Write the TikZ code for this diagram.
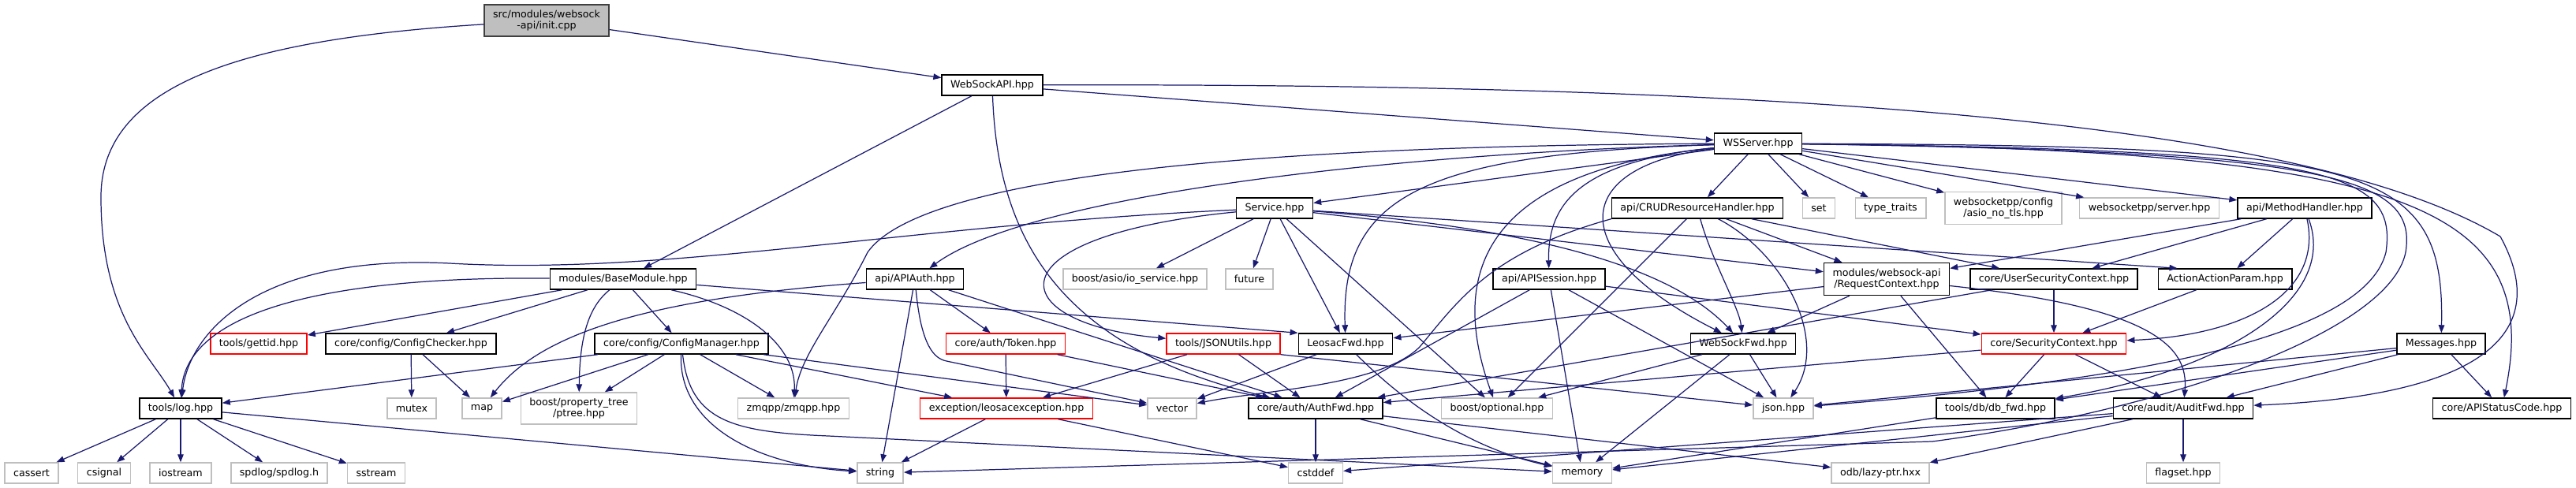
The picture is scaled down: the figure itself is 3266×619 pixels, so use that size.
\documentclass[tikz,border=0pt]{standalone}
\usepackage{fontspec}
\setmainfont{DejaVu Sans}
\usetikzlibrary{arrows.meta}
\definecolor{edgeblue}{HTML}{191970}
\definecolor{rootgray}{HTML}{BFBFBF}
\definecolor{rootborder}{HTML}{404040}
\definecolor{sysgray}{HTML}{BFBFBF}

\begin{document}
\begin{tikzpicture}[
  x=0.01cm,
  y=-0.01cm,
  file/.style={
    rectangle,
    draw=black,
    fill=white,
    line width=0.4pt,
    minimum height=2.6mm,
    inner xsep=1.1mm,
    inner ysep=0pt,
    align=center,
    font=\fontsize{3.6pt}{4pt}\selectfont
  },
  sysfile/.style={
    file,
    draw=sysgray
  },
  truncfile/.style={
    file,
    draw=red
  },
  rootfile/.style={
    file,
    fill=rootgray,
    draw=rootborder,
    minimum height=4mm
  },
  edge/.style={
    -{Triangle[length=1mm,width=0.75mm]},
    draw=edgeblue,
    line width=0.35pt
  }
]

\path[use as bounding box] (0,0) rectangle (3266,619);

\node[rootfile]  (init)       at (693,26)   {src/modules/websock\\-api/init.cpp};
\node[file]      (wsapi)      at (1258,108) {WebSockAPI.hpp};
\node[file]      (wsserver)   at (2229,182) {WSServer.hpp};
\node[file]      (service)    at (1616,264) {Service.hpp};
\node[file]      (crud)       at (2152,264) {api/CRUDResourceHandler.hpp};
\node[sysfile]   (set)        at (2306,264) {set};
\node[sysfile]   (typetraits) at (2397,264) {type\_traits};
\node[sysfile, minimum height=4.1mm] (wsconfig) at (2540,264) {websocketpp/config\\/asio\_no\_tls.hpp};
\node[sysfile]   (wsppserver) at (2725,264) {websocketpp/server.hpp};
\node[file]      (methodh)    at (2922,264) {api/MethodHandler.hpp};
\node[file]      (basemod)    at (790,354)  {modules/BaseModule.hpp};
\node[file]      (apiauth)    at (1160,354) {api/APIAuth.hpp};
\node[sysfile]   (asio)       at (1439,354) {boost/asio/io\_service.hpp};
\node[sysfile]   (future)     at (1584,354) {future};
\node[file]      (apisession) at (1964,354) {api/APISession.hpp};
\node[file, minimum height=4.1mm] (reqctx) at (2392,354) {modules/websock-api\\/RequestContext.hpp};
\node[file]      (usersec)    at (2604,354) {core/UserSecurityContext.hpp};
\node[file]      (actparam)   at (2821,354) {ActionActionParam.hpp};
\node[truncfile] (gettid)     at (328,436)  {tools/gettid.hpp};
\node[file]      (cfgcheck)   at (521,436)  {core/config/ConfigChecker.hpp};
\node[file]      (cfgmgr)     at (864,436)  {core/config/ConfigManager.hpp};
\node[truncfile] (token)      at (1275,436) {core/auth/Token.hpp};
\node[truncfile] (jsonutils)  at (1551,436) {tools/JSONUtils.hpp};
\node[file]      (leosacfwd)  at (1706,436) {LeosacFwd.hpp};
\node[file]      (wsfwd)      at (2210,436) {WebSockFwd.hpp};
\node[truncfile] (secctx)     at (2604,436) {core/SecurityContext.hpp};
\node[file]      (messages)   at (3095,436) {Messages.hpp};
\node[file]      (log)        at (229,518)  {tools/log.hpp};
\node[sysfile]   (mutex)      at (522,518)  {mutex};
\node[sysfile]   (map)        at (611,518)  {map};
\node[sysfile, minimum height=4mm] (ptree) at (734,518) {boost/property\_tree\\/ptree.hpp};
\node[sysfile]   (zmqpp)      at (1006,518) {zmqpp/zmqpp.hpp};
\node[truncfile] (leoexc)     at (1276,518) {exception/leosacexception.hpp};
\node[sysfile]   (vector)     at (1486,518) {vector};
\node[file]      (authfwd)    at (1668,518) {core/auth/AuthFwd.hpp};
\node[sysfile]   (optional)   at (1898,518) {boost/optional.hpp};
\node[sysfile]   (json)       at (2261,518) {json.hpp};
\node[file]      (dbfwd)      at (2530,518) {tools/db/db\_fwd.hpp};
\node[file]      (auditfwd)   at (2768,518) {core/audit/AuditFwd.hpp};
\node[file]      (statuscode) at (3172,518) {core/APIStatusCode.hpp};
\node[sysfile]   (cassert)    at (40,600)   {cassert};
\node[sysfile]   (csignal)    at (132,600)  {csignal};
\node[sysfile]   (iostream)   at (229,600)  {iostream};
\node[sysfile]   (spdlog)     at (354,600)  {spdlog/spdlog.h};
\node[sysfile]   (sstream)    at (477,600)  {sstream};
\node[sysfile]   (string)     at (1116,600) {string};
\node[sysfile]   (cstddef)    at (1668,600) {cstddef};
\node[sysfile]   (memory)     at (2006,600) {memory};
\node[sysfile]   (lazyptr)    at (2384,600) {odb/lazy-ptr.hxx};
\node[sysfile]   (flagset)    at (2768,600) {flagset.hpp};

\draw[edge] (init) -- (wsapi);
\draw[edge] (init) .. controls (300,50) and (128,110) .. (128,250) .. controls (128,400) and (190,450) .. (log);

\draw[edge] (wsapi) -- (wsserver);
\draw[edge] (wsapi) -- (basemod);
\draw[edge] (wsapi) .. controls (1265,300) and (1340,440) .. (authfwd);
\draw[edge] (wsapi) .. controls (2400,105) and (2950,170) .. (3170,300) .. controls (3225,400) and (3190,500) .. (auditfwd);

\draw[edge] (wsserver) -- (service);
\draw[edge] (wsserver) -- (crud);
\draw[edge] (wsserver) -- (set);
\draw[edge] (wsserver) -- (typetraits);
\draw[edge] (wsserver) -- (wsconfig);
\draw[edge] (wsserver) -- (wsppserver);
\draw[edge] (wsserver) -- (methodh);
\draw[edge] (wsserver) .. controls (1750,195) and (1300,250) .. (apiauth);
\draw[edge] (wsserver) .. controls (1500,185) and (1160,235) .. (1100,320) .. controls (1060,400) and (1015,450) .. (zmqpp);
\draw[edge] (wsserver) .. controls (1800,195) and (1700,250) .. (leosacfwd);
\draw[edge] (wsserver) .. controls (1900,215) and (1830,330) .. (optional);
\draw[edge] (wsserver) .. controls (2000,205) and (1962,260) .. (apisession);
\draw[edge] (wsserver) .. controls (1990,210) and (1980,320) .. (wsfwd);
\draw[edge] (wsserver) .. controls (3000,185) and (3100,205) .. (messages);
\draw[edge] (wsserver) .. controls (3050,190) and (3225,260) .. (statuscode);
\draw[edge] (wsserver) .. controls (2950,190) and (3040,215) .. (3025,320) .. controls (3000,420) and (2750,480) .. (json);
\draw[edge] (wsserver) .. controls (2960,192) and (3065,225) .. (3050,320) .. controls (3030,420) and (2750,520) .. (2450,560) -- (string);

\draw[edge] (service) .. controls (1150,285) and (850,350) .. (570,334) .. controls (330,322) and (240,420) .. (log);
\draw[edge] (service) .. controls (1250,300) and (1270,410) .. (jsonutils);
\draw[edge] (service) -- (asio);
\draw[edge] (service) -- (future);
\draw[edge] (service) -- (leosacfwd);
\draw[edge] (service) -- (optional);
\draw[edge] (service) -- (reqctx);
\draw[edge] (service) -- ([xshift=2.5mm]actparam.north west);
\draw[edge] (service) .. controls (1950,290) and (2120,340) .. (wsfwd);

\draw[edge] (crud) -- (reqctx);
\draw[edge] (crud) -- (usersec);
\draw[edge] (crud) -- (optional);
\draw[edge] (crud.south west) .. controls (1890,320) and (1850,380) .. (1800,440) .. controls (1750,490) and (1600,495) .. (vector);
\draw[edge] (crud) .. controls (2170,330) and (2205,390) .. (wsfwd);
\draw[edge] (crud) .. controls (2260,320) and (2320,430) .. (json);

\draw[edge] (methodh) -- (reqctx);
\draw[edge] (methodh) -- (usersec);
\draw[edge] (methodh) -- (actparam);
\draw[edge] (methodh) .. controls (2945,370) and (2850,425) .. (secctx);
\draw[edge] (methodh) .. controls (2965,380) and (2820,470) .. (dbfwd);

\draw[edge] (basemod) .. controls (400,350) and (235,400) .. (log);
\draw[edge] (basemod) -- (gettid);
\draw[edge] (basemod) -- (cfgcheck);
\draw[edge] (basemod) -- (cfgmgr);
\draw[edge] (basemod) .. controls (745,390) and (735,430) .. (ptree);
\draw[edge] (basemod) .. controls (950,390) and (1010,440) .. (zmqpp);
\draw[edge] (basemod) -- (leosacfwd.north west);

\draw[edge] (apiauth) .. controls (800,380) and (680,430) .. (map);
\draw[edge] (apiauth) -- (string);
\draw[edge] (apiauth) -- (token);
\draw[edge] (apiauth) -- (authfwd);
\draw[edge] (apiauth) .. controls (1168,440) and (1185,455) .. (1200,458) -- (vector);

\draw[edge] (apisession) -- (authfwd);
\draw[edge] (apisession) -- (memory);
\draw[edge] (apisession) -- (json);
\draw[edge] (apisession) -- (secctx);

\draw[edge] (reqctx) -- (wsfwd);
\draw[edge] (reqctx) -- (leosacfwd);
\draw[edge] (reqctx) -- (dbfwd);
\draw[edge] (reqctx) .. controls (2730,390) and (2775,440) .. (auditfwd);

\draw[edge] (usersec) -- (secctx);
\draw[edge] (usersec) -- (authfwd);
\draw[edge] (actparam) -- (secctx);

\draw[edge] (cfgcheck) -- (mutex);
\draw[edge] (cfgcheck) -- (map);

\draw[edge] (cfgmgr) -- (log);
\draw[edge] (cfgmgr) -- (map);
\draw[edge] (cfgmgr) -- (ptree);
\draw[edge] (cfgmgr) -- (zmqpp);
\draw[edge] (cfgmgr) -- (leoexc);
\draw[edge] (cfgmgr) -- (vector);
\draw[edge] (cfgmgr) .. controls (860,540) and (960,590) .. (string);
\draw[edge] (cfgmgr) .. controls (875,535) and (930,548) .. (1050,553) -- (memory);

\draw[edge] (token) -- (leoexc);
\draw[edge] (token) -- (authfwd);
\draw[edge] (jsonutils) -- (leoexc);
\draw[edge] (jsonutils) -- (authfwd);
\draw[edge] (jsonutils.south east) -- (json);
\draw[edge] (leosacfwd) -- (vector);
\draw[edge] (leosacfwd) .. controls (1790,520) and (1870,570) .. (memory);

\draw[edge] (wsfwd) -- (json);
\draw[edge] (wsfwd) -- (optional);
\draw[edge] (wsfwd) -- (memory);

\draw[edge] (secctx) -- (authfwd);
\draw[edge] (secctx) -- (dbfwd);
\draw[edge] (secctx) -- (auditfwd);

\draw[edge] (messages) -- (json);
\draw[edge] (messages) -- (dbfwd);
\draw[edge] (messages) -- (auditfwd);
\draw[edge] (messages) -- (statuscode);

\draw[edge] (log) -- (cassert);
\draw[edge] (log) -- (csignal);
\draw[edge] (log) -- (iostream);
\draw[edge] (log) -- (spdlog);
\draw[edge] (log) -- (sstream);
\draw[edge] (log) -- (string);

\draw[edge] (leoexc) -- (string);
\draw[edge] (leoexc) -- (cstddef);
\draw[edge] (authfwd) -- (cstddef);
\draw[edge] (authfwd) -- (memory);
\draw[edge] (authfwd) -- (lazyptr);
\draw[edge] (dbfwd) -- (memory);
\draw[edge] (auditfwd) -- (cstddef);
\draw[edge] (auditfwd) -- (memory);
\draw[edge] (auditfwd) -- (lazyptr);
\draw[edge] (auditfwd) -- (flagset);

\end{tikzpicture}
\end{document}
